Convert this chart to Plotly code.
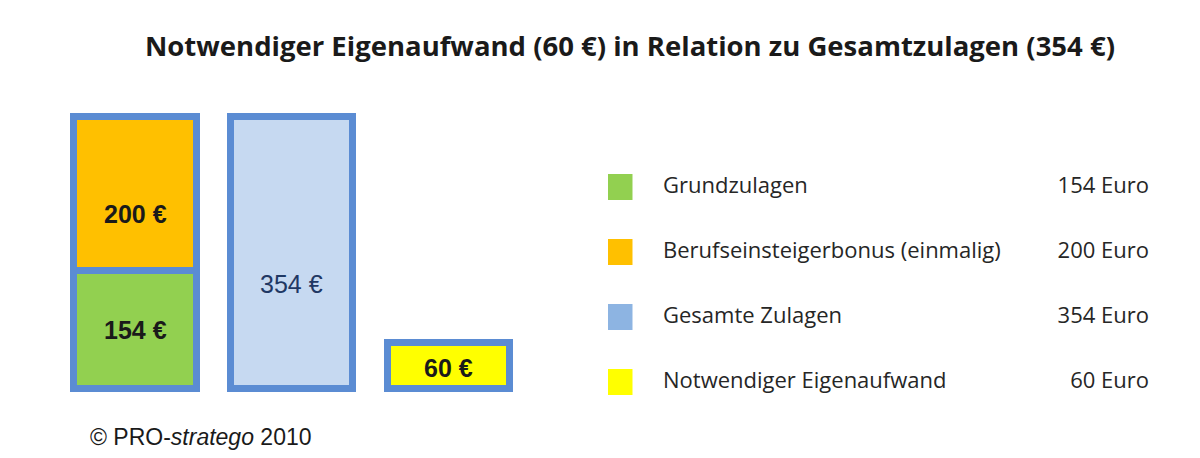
import plotly.graph_objects as go

# bar data
bar_cats = ['Zulagen', 'Gesamt', 'Eigenaufwand']
grund = [154, None, None]
bonus = [200, None, None]
gesamt = [None, 354, None]
eigen = [None, None, 60]

# legend table
leg_names = ['Grundzulagen', 'Berufseinsteigerbonus (einmalig)', 'Gesamte Zulagen', 'Notwendiger Eigenaufwand']
leg_values = ['154 Euro', '200 Euro', '354 Euro', '60 Euro']
leg_colors = ['#92D050', '#FFC000', '#8DB4E2', '#FFFF00']

border = '#5B8CD3'
bar_w = 0.78

fig = go.Figure()

def add_bar(vals, color, label, bold=True, txtcolor='#1a1a1a', shift=0):
    fig.add_trace(go.Bar(
        x=bar_cats,
        y=vals,
        width=bar_w,
        marker=dict(color=color, line=dict(color=border, width=7)),
        name=label,
        showlegend=False,
        hoverinfo='skip'
    ))
    # value label, excel puts them a bit below centre on tall boxes
    base = [(g or 0) if v is not None and label == 'Bonus' else 0 for g, v in zip(grund, vals)]
    for cat, v, b in zip(bar_cats, vals, base):
        if v is None:
            continue
        txt = f'{v} €'
        fig.add_annotation(
            x=cat, y=b + v / 2,
            text=f'<b>{txt}</b>' if bold else txt,
            showarrow=False, yshift=shift,
            font=dict(family='Liberation Sans, Arial', size=25, color=txtcolor)
        )

add_bar(grund, '#92D050', 'Grundzulagen')
add_bar(bonus, '#FFC000', 'Bonus', shift=-21)
add_bar(gesamt, '#C6D9F1', 'Gesamt', bold=False, txtcolor='#1F3864', shift=-31)
add_bar(eigen, '#FFFF00', 'Eigenaufwand', shift=-2)

# legend squares + texts on second axis pair
fig.add_trace(go.Scatter(
    x=[11.5] * len(leg_names),
    y=leg_names,
    mode='markers',
    marker=dict(symbol='square', size=26, color=leg_colors),
    xaxis='x2', yaxis='y2',
    showlegend=False, hoverinfo='skip'
))
fig.add_trace(go.Scatter(
    x=[55] * len(leg_names),
    y=leg_names,
    mode='text',
    text=leg_names,
    textposition='middle right',
    textfont=dict(family='Open Sans', size=22, color='#262626'),
    xaxis='x2', yaxis='y2',
    showlegend=False, hoverinfo='skip'
))
fig.add_trace(go.Scatter(
    x=[541] * len(leg_names),
    y=leg_names,
    mode='text',
    text=leg_values,
    textposition='middle left',
    textfont=dict(family='Open Sans', size=22, color='#262626'),
    xaxis='x2', yaxis='y2',
    showlegend=False, hoverinfo='skip'
))

fig.update_layout(
    width=1200,
    height=458,
    margin=dict(l=0, r=0, t=0, b=0),
    plot_bgcolor='#ffffff',
    paper_bgcolor='#ffffff',
    barmode='stack',
    title=dict(
        text='<b>Notwendiger Eigenaufwand (60 €) in Relation zu Gesamtzulagen (354 €)</b>',
        x=622 / 1200, xanchor='center',
        y=1 - 38 / 458, yanchor='middle',
        font=dict(family='Open Sans', size=27.5, color='#1a1a1a')
    ),
    xaxis=dict(domain=[0, 0.5], range=[-0.8115, 3.022], visible=False, fixedrange=True),
    yaxis=dict(domain=[0, 1], range=[-99.9, 494.2], visible=False, fixedrange=True),
    xaxis2=dict(domain=[0.5, 1], range=[0, 600], visible=False, anchor='y2'),
    yaxis2=dict(domain=[0, 1], range=[4.292, -2.754], visible=False, anchor='x2',
                type='category', categoryorder='array', categoryarray=leg_names),
)

fig.add_annotation(
    text='© PRO-<i>stratego</i> 2010',
    xref='paper', yref='paper',
    x=80 / 1200, y=1 - 429 / 458,
    xanchor='left', yanchor='middle',
    showarrow=False,
    font=dict(family='Liberation Sans, Arial', size=23, color='#1a1a1a')
)

fig.write_html("out.html")
